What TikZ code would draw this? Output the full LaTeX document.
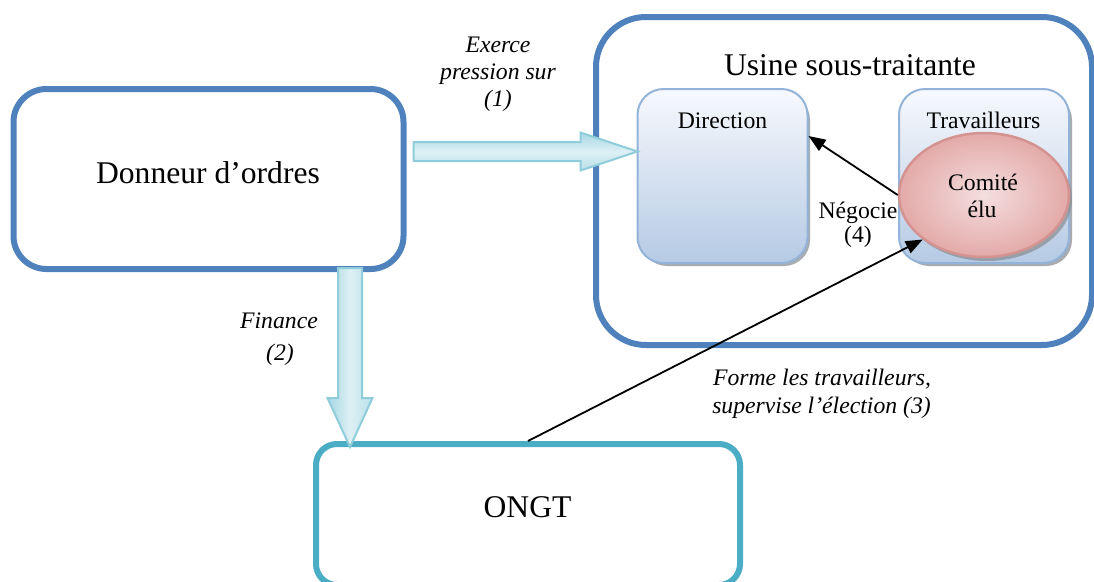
\documentclass[tikz,border=0pt]{standalone}
\usepackage{fontspec}
\setmainfont{Liberation Serif}
\usetikzlibrary{calc,arrows.meta,shapes.geometric}

\definecolor{frameblue}{HTML}{4F81BD}
\definecolor{frameaqua}{HTML}{4BACC6}
\definecolor{subline}{HTML}{93B3D9}
\definecolor{subtop}{HTML}{F7F9FD}
\definecolor{subbottom}{HTML}{B5CAE4}
\definecolor{pinkline}{HTML}{D49391}
\definecolor{pinkdark}{HTML}{E3AAA9}
\definecolor{pinklight}{HTML}{F4DEDE}
\definecolor{arrowline}{HTML}{8FCDDB}
\definecolor{arrowdark}{HTML}{A6D7E3}
\definecolor{arrowlight}{HTML}{DDF0F5}
\definecolor{shadowgray}{HTML}{8C9196}

\begin{document}
\begin{tikzpicture}[x=1pt,y=-1pt,
  bigfont/.style={font=\fontsize{31.6}{36}\selectfont},
  smallfont/.style={font=\fontsize{23.7}{27}\selectfont},
  txt/.style={anchor=base,inner sep=0pt,smallfont},
  itxt/.style={txt,font=\fontsize{23.7}{27}\selectfont\itshape},
  bigbox/.style={draw=#1,line width=6pt,rounded corners=33pt,fill=white,inner sep=0pt},
  subbox/.style={draw=subline,line width=2pt,rounded corners=26pt,
    top color=subtop,bottom color=subbottom,inner sep=0pt},
  subshadow/.style={fill=shadowgray,fill opacity=0.75,rounded corners=26pt},
  comitestyle/.style={ellipse,draw=pinkline,line width=2.5pt,inner sep=0pt,
    inner color=pinklight,outer color=pinkdark},
  blockh/.style={draw=arrowline,line width=2pt,line join=miter,
    top color=arrowdark,bottom color=arrowdark!80!white,middle color=arrowlight},
  blockv/.style={draw=arrowline,line width=2pt,line join=miter,
    left color=arrowdark,right color=arrowdark!80!white,middle color=arrowlight},
  blockshadow/.style={fill=shadowgray,fill opacity=0.7},
  conn/.style={draw=black,line width=1.8pt,-{Triangle[length=17pt,width=13pt]}}
]
\useasboundingbox (0,0) rectangle (1094,581);

% factory frame
\node[bigbox=frameblue,rounded corners=50pt,minimum width=496pt,minimum height=328pt]
  (usine) at (844,181) {};
\node[txt,bigfont] (usinetxt) at (850,75) {Usine sous-traitante};

% management and workers
\fill[subshadow] (641,94) rectangle (810,266);
\fill[subshadow] (903,94) rectangle (1072,266);
\node[subbox,minimum width=170pt,minimum height=174pt] (dir) at (722.5,176) {};
\node[subbox,minimum width=170pt,minimum height=174pt] (trav) at (984,176) {};
\node[txt] (dirtxt) at (722.5,128) {Direction};
\node[txt] (travtxt) at (983.5,128) {Travailleurs};

% elected committee
\fill[shadowgray,fill opacity=0.75] (987,199) ellipse [x radius=85,y radius=62];
\node[comitestyle,minimum width=170pt,minimum height=124pt] (comite) at (984,195) {};
\node[txt] (comite1) at (983,190) {Comité};
\node[txt] (comite2) at (982,217) {élu};

% client and NGO boxes
\node[bigbox=frameblue,minimum width=390pt,minimum height=180pt]
  (donneur) at (208.5,179) {};
\node[txt,bigfont] (donneurtxt) at (208,183) {Donneur d’ordres};
\node[bigbox=frameaqua,rounded corners=21pt,minimum width=424pt,minimum height=141pt]
  (ongt) at (528,514.5) {};
\node[txt,bigfont] (ongttxt) at (527.5,517) {ONGT};

% block arrow (1): client -> management
\coordinate (a1s) at ($(donneur.east)+(7,-27.5)$);
\coordinate (a1e) at ($(dir.west)+(1,-24.5)$);
\fill[blockshadow,shift={(3,4)}]
  ($(a1s)+(0,-9.5)$) -- ($(a1e)+(-57,-9.5)$) -- ($(a1e)+(-57,-19)$) -- (a1e)
  -- ($(a1e)+(-57,19)$) -- ($(a1e)+(-57,9.5)$) -- ($(a1s)+(0,9.5)$) -- cycle;
\path[blockh]
  ($(a1s)+(0,-9.5)$) -- ($(a1e)+(-57,-9.5)$) -- ($(a1e)+(-57,-19)$) -- (a1e)
  -- ($(a1e)+(-57,19)$) -- ($(a1e)+(-57,9.5)$) -- ($(a1s)+(0,9.5)$) -- cycle;

% block arrow (2): client -> NGO
\coordinate (a2s) at ($(donneur.south)+(141.5,-4)$);
\coordinate (a2e) at ($(a2s |- ongt.north)+(0,6)$);
\fill[blockshadow,shift={(4,3)}]
  ($(a2s)+(-12,0)$) -- ($(a2e)+(-12,-49)$) -- ($(a2e)+(-22.5,-49)$) -- (a2e)
  -- ($(a2e)+(22.5,-49)$) -- ($(a2e)+(12,-49)$) -- ($(a2s)+(12,0)$) -- cycle;
\path[blockv]
  ($(a2s)+(-12,0)$) -- ($(a2e)+(-12,-49)$) -- ($(a2e)+(-22.5,-49)$) -- (a2e)
  -- ($(a2e)+(22.5,-49)$) -- ($(a2e)+(12,-49)$) -- ($(a2s)+(12,0)$) -- cycle;

% thin connectors
\coordinate (dirin) at ($(dir.north east)+(0,48)$);
\draw[conn] (comite.west) -- (dirin);
\draw[conn] (ongt.north) -- (comite.216);

% connector labels
\node[itxt] (l1a) at (498,52.7) {Exerce};
\node[itxt] (l1b) at (498,79.3) {pression sur};
\node[itxt] (l1c) at (498,106.7) {(1)};
\node[itxt] (l2a) at (279,328) {Finance};
\node[itxt] (l2b) at (280,360) {(2)};
\node[itxt] (l3a) at (822,385) {Forme les travailleurs,};
\node[itxt] (l3b) at (821.5,413) {supervise l’élection (3)};
\node[txt] (l4a) at (858,218) {Négocie};
\node[txt] (l4b) at (858,242) {(4)};
\end{tikzpicture}
\end{document}
